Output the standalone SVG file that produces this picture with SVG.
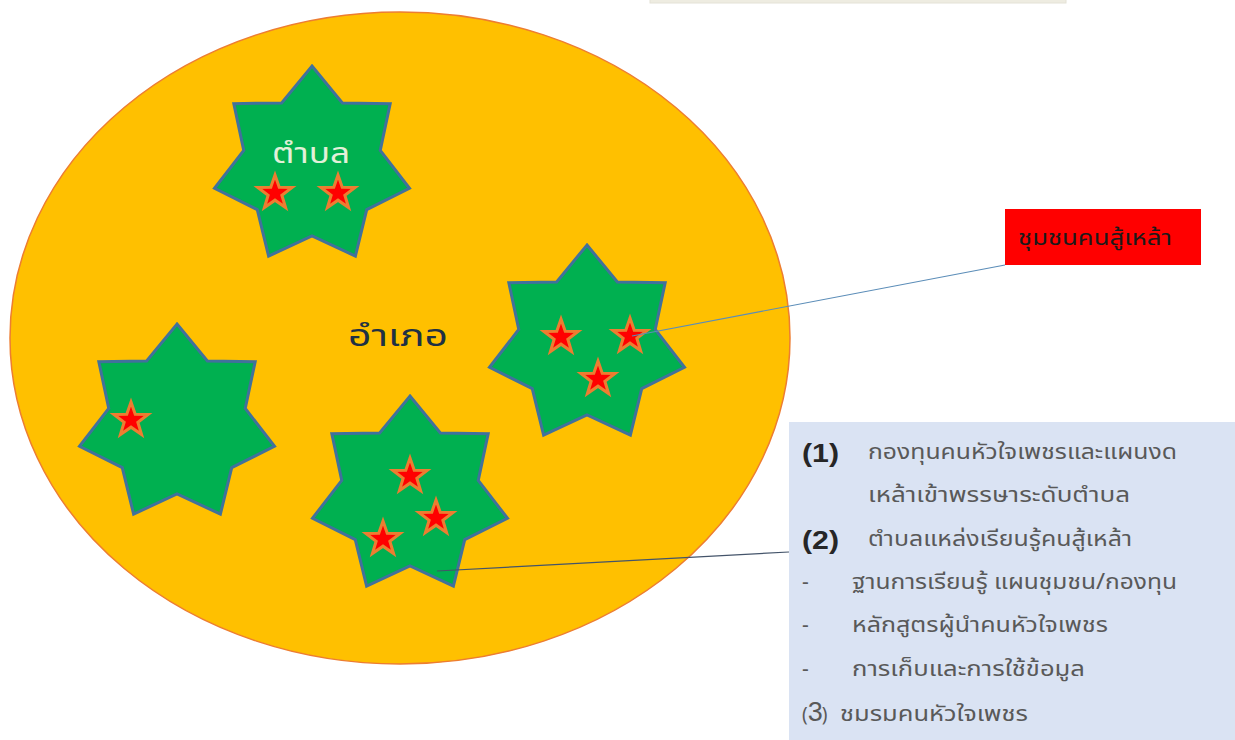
<svg xmlns="http://www.w3.org/2000/svg" width="1235" height="740" viewBox="0 0 1235 740">
<style>
.big{fill:#00B050;stroke:#41719C;stroke-width:3;stroke-linejoin:miter}
.sm{fill:#FF0000;stroke:#ED7D31;stroke-width:3;stroke-linejoin:miter}
.th{font-family:"Noto Sans Thai","Noto Sans","DejaVu Sans",sans-serif}
.box{font-family:"Noto Sans Thai","Noto Sans","DejaVu Sans",sans-serif;font-size:21px;fill:#595959}
.num{font-family:"Liberation Sans","Noto Sans",sans-serif;font-size:26px;fill:#262626}
.conn{fill:none;stroke-width:1.2}
</style>
<defs>
<polygon id="hept" points="0,-100 30.37,-63.07 78.18,-62.35 68.25,-15.58 97.49,22.25 54.73,43.64 43.39,90.1 0,70 -43.39,90.1 -54.73,43.64 -97.49,22.25 -68.25,-15.58 -78.18,-62.35 -30.37,-63.07"/>
<polygon id="pent" points="0,-18 4.23,-5.82 17.12,-5.56 6.85,2.22 10.58,14.56 0,7.2 -10.58,14.56 -6.85,2.22 -17.12,-5.56 -4.23,-5.82"/>
</defs>
<rect width="1235" height="740" fill="#FFFFFF"/>
<rect x="650" y="-10" width="416" height="13" fill="#EEECE1" stroke="#E4E2D6" stroke-width="1"/>
<g id="district">
<ellipse cx="400" cy="338" rx="390" ry="326" fill="#FFC000" stroke="#ED7D31" stroke-width="1.5"/>
<text x="348" y="346" class="th" font-size="30" fill="#203044" textLength="100" lengthAdjust="spacingAndGlyphs">อำเภอ</text>
</g>
<g id="tambon1">
<use href="#hept" class="big" transform="translate(312,166)"/>
<text x="272" y="163" class="th" font-size="28" fill="#E2F0D9" textLength="78" lengthAdjust="spacingAndGlyphs">ตำบล</text>
<use href="#pent" class="sm" transform="translate(275,193)"/>
<use href="#pent" class="sm" transform="translate(338,193)"/>
</g>
<g id="tambon2">
<use href="#hept" class="big" transform="translate(587,345)"/>
<use href="#pent" class="sm" transform="translate(561,337)"/>
<use href="#pent" class="sm" transform="translate(630,336)"/>
<use href="#pent" class="sm" transform="translate(598,379)"/>
</g>
<g id="tambon3">
<use href="#hept" class="big" transform="translate(177,424)"/>
<use href="#pent" class="sm" transform="translate(131,420)"/>
</g>
<g id="tambon4">
<use href="#hept" class="big" transform="translate(410,496)"/>
<use href="#pent" class="sm" transform="translate(410,476)"/>
<use href="#pent" class="sm" transform="translate(436,518)"/>
<use href="#pent" class="sm" transform="translate(383,539)"/>
</g>
<g id="connectors">
<line x1="632" y1="336" x2="1005" y2="265" class="conn" stroke="#5B8DB8"/>
<line x1="437" y1="571" x2="789" y2="552" class="conn" stroke="#44546A"/>
</g>
<g id="label-community">
<rect x="1005" y="209" width="196" height="56" fill="#FF0000"/>
<text x="1018" y="245" class="th" font-size="21" fill="#1A1A1A" textLength="154" lengthAdjust="spacingAndGlyphs">ชุมชนคนสู้เหล้า</text>
</g>
<g id="info-box">
<rect x="789" y="422" width="450" height="322" fill="#DAE3F3"/>
<text x="802" y="462" class="num" font-weight="bold" textLength="37" lengthAdjust="spacingAndGlyphs">(1)</text>
<text x="868" y="459" class="box" textLength="309" lengthAdjust="spacingAndGlyphs">กองทุนคนหัวใจเพชรและแผนงด</text>
<text x="868" y="502" class="box" textLength="262" lengthAdjust="spacingAndGlyphs">เหล้าเข้าพรรษาระดับตำบล</text>
<text x="802" y="549" class="num" font-weight="bold" textLength="37" lengthAdjust="spacingAndGlyphs">(2)</text>
<text x="868" y="546" class="box" textLength="264" lengthAdjust="spacingAndGlyphs">ตำบลแหล่งเรียนรู้คนสู้เหล้า</text>
<text x="802" y="589" class="box" fill="#262626">-</text>
<text x="852" y="589" class="box" textLength="325" lengthAdjust="spacingAndGlyphs">ฐานการเรียนรู้ แผนชุมชน/กองทุน</text>
<text x="802" y="632" class="box" fill="#262626">-</text>
<text x="852" y="632" class="box" textLength="256" lengthAdjust="spacingAndGlyphs">หลักสูตรผู้นำคนหัวใจเพชร</text>
<text x="802" y="676" class="box" fill="#262626">-</text>
<text x="852" y="676" class="box" textLength="233" lengthAdjust="spacingAndGlyphs">การเก็บและการใช้ข้อมูล</text>
<text x="802" y="721" class="box" fill="#262626"><tspan font-size="19">(</tspan><tspan font-family="Liberation Sans" font-size="27">3</tspan><tspan font-size="19" dx="-1">)</tspan></text>
<text x="840" y="721" class="box" textLength="188" lengthAdjust="spacingAndGlyphs">ชมรมคนหัวใจเพชร</text>
</g>
</svg>
